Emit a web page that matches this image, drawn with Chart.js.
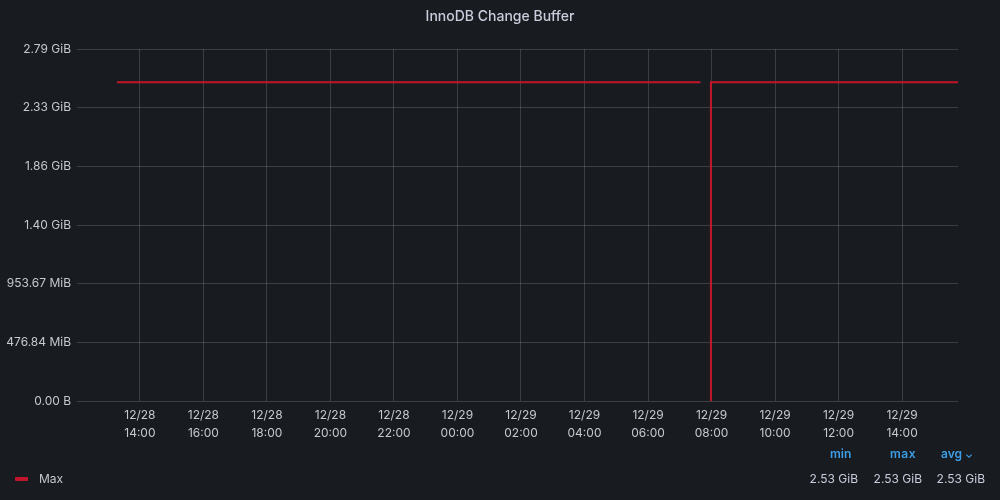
<!DOCTYPE html>
<html>
<head>
<meta charset="utf-8">
<script src="https://cdn.jsdelivr.net/npm/chart.js@4/dist/chart.umd.min.js"></script>
<style>
  html, body { margin:0; padding:0; background:#181b1f; }
  #wrap { position:relative; width:1000px; height:500px; font-family: Inter, Roboto, "Noto Sans", sans-serif; color:#ccccdc; }
  #c { position:absolute; left:0; top:0; }
  .t { position:absolute; white-space:nowrap; font-size:12px; line-height:14px; }
  #title { position:absolute; left:0; width:1000px; top:7px; text-align:center; font-size:14px; font-weight:500; color:#ccccdc; }
  .hdr { color:#3d9ee8; font-weight:600; }
</style>
</head>
<body>
<div id="wrap">
  <canvas id="c" width="1000" height="500"></canvas>
  <div id="title">InnoDB Change Buffer</div>
  <div style="position:absolute;left:15px;top:477px;width:13px;height:4px;background:#c4162a;border-radius:1px"></div>
  <div class="t" style="left:39px;top:472px;color:#c7c8d0">Max</div>
  <div class="t hdr" style="left:830px;top:447px">min</div>
  <div class="t hdr" style="left:890px;top:447px;letter-spacing:0.5px">max</div>
  <div class="t hdr" style="left:941px;top:447px">avg <span style="font-size:10px">&#x2304;</span></div>
  <div class="t" id="v1" style="right:142px;top:472px"></div>
  <div class="t" id="v2" style="right:78px;top:472px"></div>
  <div class="t" id="v3" style="right:15px;top:472px"></div>
</div>
<script>
// Time in hours since 12/28 00:00
const seriesName = "Max";
const times  = [13.28, 15, 17, 19, 21, 23, 25, 27, 29, 31, 31.65, null, 31.97, 31.98, 33, 35, 37, 39, 39.76];
const values = [2.716e9, 2.716e9, 2.716e9, 2.716e9, 2.716e9, 2.716e9, 2.716e9, 2.716e9, 2.716e9, 2.716e9, 2.716e9, null, 0, 2.716e9, 2.716e9, 2.716e9, 2.716e9, 2.716e9, 2.716e9];
const xTicks = [14, 16, 18, 20, 22, 24, 26, 28, 30, 32, 34, 36, 38];
const yTicks = [0, 5e8, 1e9, 1.5e9, 2e9, 2.5e9, 3e9];
const legendMin = "2.53 GiB", legendMax = "2.53 GiB", legendAvg = "2.53 GiB";

document.getElementById('v1').textContent = legendMin;
document.getElementById('v2').textContent = legendMax;
document.getElementById('v3').textContent = legendAvg;

function fmtBytes(v) {
  if (v === 0) return "0.00 B";
  const GiB = 1024*1024*1024, MiB = 1024*1024;
  if (v >= GiB) return (v/GiB).toFixed(2) + " GiB";
  return (v/MiB).toFixed(2) + " MiB";
}
function fmtTime(h) {
  const day = h >= 24 ? "12/29" : "12/28";
  const hh = Math.round(h % 24);
  return [day, (hh < 10 ? "0" : "") + hh + ":00"];
}

const pts = times.map((t, i) => t === null ? {x: 31.8, y: null} : {x: t, y: values[i]});

new Chart(document.getElementById('c'), {
  type: 'line',
  data: { datasets: [{
    label: seriesName, data: pts, borderColor: '#c4162a', borderWidth: 2,
    pointRadius: 0, tension: 0, spanGaps: false, fill: false
  }]},
  options: {
    responsive: false, animation: false,
    layout: { padding: { left: 0, right: 42, top: 49, bottom: 0 } },
    plugins: { legend: { display: false }, tooltip: { enabled: false }, title: { display: false } },
    scales: {
      x: {
        type: 'linear', min: 12.02, max: 39.76,
        afterBuildTicks: s => { s.ticks = xTicks.map(v => ({ value: v })); },
        afterFit: s => { s.height = 99; },
        grid: { color: 'rgba(204,204,220,0.2)', drawTicks: false },
        border: { display: false },
        ticks: { callback: v => fmtTime(v), color: '#c7c8d0', padding: 5, maxRotation: 0,
                 font: { family: 'Inter', size: 12, lineHeight: 1.5 } }
      },
      y: {
        min: 0, max: 3e9,
        afterBuildTicks: s => { s.ticks = yTicks.map(v => ({ value: v })); },
        afterFit: s => { s.width = 77; },
        grid: { color: 'rgba(204,204,220,0.2)', drawTicks: false },
        border: { display: false },
        ticks: { callback: v => fmtBytes(v), color: '#c7c8d0', padding: 6,
                 font: { family: 'Inter', size: 12 } }
      }
    }
  }
});
</script>
</body>
</html>
